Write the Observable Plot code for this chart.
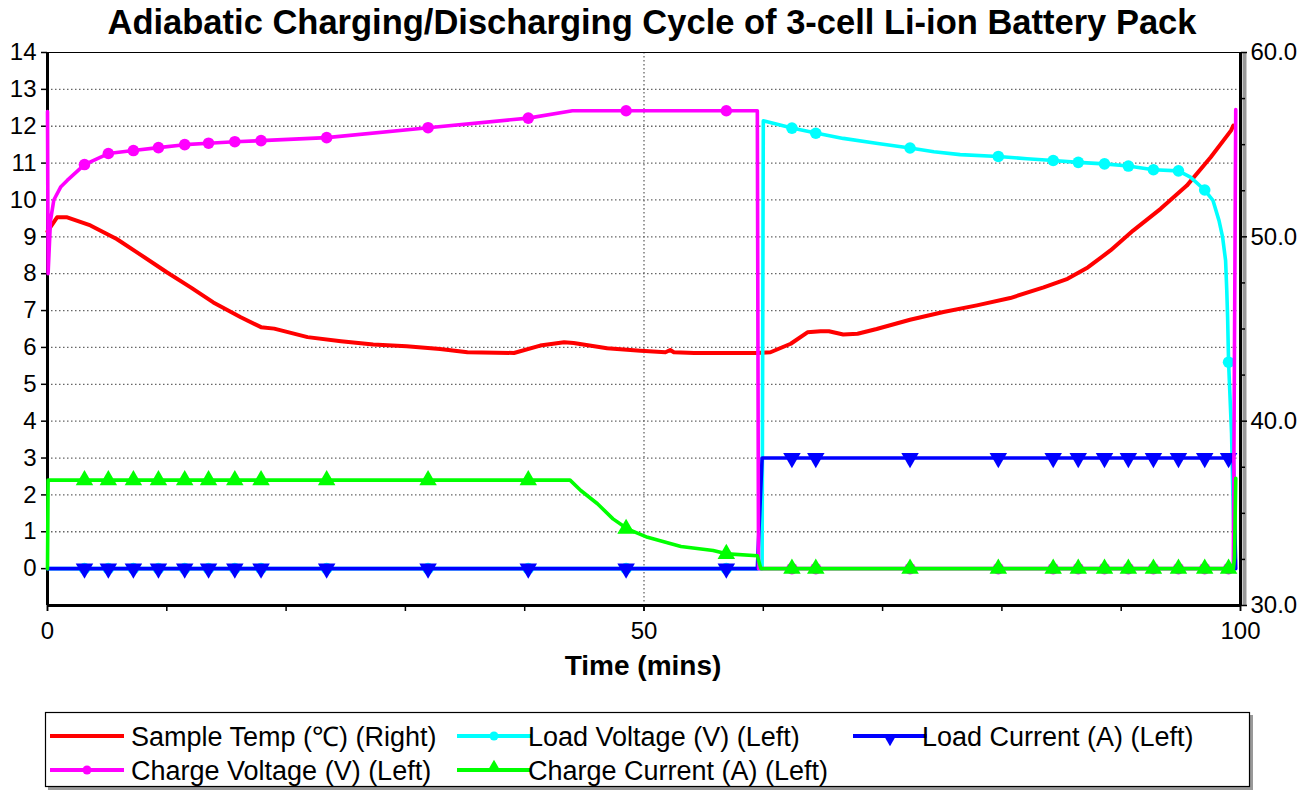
<!DOCTYPE html>
<html><head><meta charset="utf-8">
<script src="https://cdn.jsdelivr.net/npm/d3@7"></script>
<script src="https://cdn.jsdelivr.net/npm/@observablehq/plot@0.6"></script>
<style>
html,body{margin:0;padding:0;background:#fff;}
body{position:relative;width:1312px;height:790px;overflow:hidden;font-family:"Liberation Sans",Arial,sans-serif;color:#000;}
#title{position:absolute;left:0;top:0;width:1304px;text-align:center;font-weight:bold;font-size:34.5px;line-height:44px;}
#chart{position:absolute;left:0;top:0;}
#xlabel{position:absolute;left:443px;width:400px;top:650px;text-align:center;font-weight:bold;font-size:28px;line-height:32px;}
#legend{position:absolute;left:0;top:0;}
svg{overflow:visible;}
</style></head><body>
<div id="chart"></div>
<div id="title">Adiabatic Charging/Discharging Cycle of 3-cell Li-ion Battery Pack</div>
<div id="xlabel">Time (mins)</div>
<div id="legend"></div>
<script>
// ---------- data ----------
const tempTime = [0, 0.8, 1.65, 3.6, 5.8, 7.5, 10.0, 12.0, 13.9, 16.2, 17.9, 19.0, 21.8, 24.6, 27.3, 30.1, 32.9, 35.2, 39.1, 41.3, 43.3, 44.1, 46.9, 49.7, 51.8, 52.2, 52.5, 54.2, 59.5, 60.6, 62.3, 63.7, 64.8, 65.5, 66.7, 67.9, 69.5, 72.3, 75.1, 77.9, 80.7, 83.5, 85.5, 87.2, 89.1, 91.0, 93.3, 95.5, 97.5, 99.2, 99.4];
const tempC    = [50.3, 51.06, 51.06, 50.62, 49.88, 49.16, 48.08, 47.26, 46.44, 45.64, 45.1, 45.02, 44.56, 44.34, 44.16, 44.06, 43.92, 43.74, 43.7, 44.1, 44.28, 44.24, 43.96, 43.82, 43.74, 43.86, 43.74, 43.7, 43.7, 43.74, 44.2, 44.82, 44.88, 44.88, 44.7, 44.74, 45.0, 45.5, 45.92, 46.28, 46.68, 47.26, 47.72, 48.34, 49.26, 50.34, 51.52, 52.78, 54.32, 55.76, 56.04];

const loadVoltTime = [0, 59.9, 60.0, 62.4, 64.5, 66.7, 69.6, 72.3, 74.3, 76.5, 79.7, 82.1, 84.3, 86.4, 88.6, 90.6, 92.7, 94.8, 95.8, 97.0, 97.7, 98.2, 98.5, 98.75, 98.85, 98.92, 99.0, 99.25, 99.5];
const loadVoltage  = [0, 0, 12.15, 11.95, 11.81, 11.67, 11.53, 11.41, 11.31, 11.23, 11.18, 11.12, 11.07, 11.02, 10.98, 10.92, 10.82, 10.79, 10.62, 10.27, 9.98, 9.44, 8.99, 8.36, 7.54, 6.82, 5.6, 3.66, 0];

const loadCurrTime = [0, 59.5, 59.9, 99.4, 99.6];
const loadCurrent  = [0, 0, 3.0, 3.0, 0];

const chargeVoltTime = [0, 0.05, 0.25, 0.53, 1.1, 1.65, 3.1, 5.1, 7.2, 9.3, 11.5, 13.5, 15.7, 17.9, 23.4, 31.9, 40.3, 44.0, 48.5, 56.9, 59.5, 59.6, 99.4, 99.6];
const chargeVoltage  = [12.4, 8.0, 9.44, 10.0, 10.35, 10.53, 10.96, 11.26, 11.34, 11.42, 11.5, 11.54, 11.58, 11.61, 11.69, 11.96, 12.22, 12.42, 12.42, 12.42, 12.42, 0, 0, 12.45];

const chargeCurrTime = [0, 0.05, 43.8, 44.7, 46.1, 47.4, 48.6, 50.3, 53.1, 55.8, 57.0, 59.5, 59.8, 99.4, 99.5, 99.6];
const chargeCurrent  = [0, 2.4, 2.4, 2.12, 1.76, 1.35, 1.08, 0.85, 0.6, 0.49, 0.40, 0.35, 0, 0, 0.3, 2.45];

// marker (sample) times and marker values
const markerTime = [3.1, 5.1, 7.2, 9.3, 11.5, 13.5, 15.7, 17.9, 23.4, 31.9, 40.3, 48.5, 56.9, 62.4, 64.4, 72.3, 79.7, 84.3, 86.4, 88.6, 90.6, 92.7, 94.8, 97.0, 99.0];
const loadVoltMarks   = [0,0,0,0,0,0,0,0,0,0,0,0,0, 11.95, 11.81, 11.41, 11.18, 11.07, 11.02, 10.98, 10.92, 10.82, 10.79, 10.27, 5.6];
const loadCurrMarks   = [0,0,0,0,0,0,0,0,0,0,0,0,0, 3,3,3,3,3,3,3,3,3,3,3,3];
const chargeVoltMarks = [10.96, 11.26, 11.34, 11.42, 11.5, 11.54, 11.58, 11.61, 11.69, 11.96, 12.22, 12.42, 12.42, 0,0,0,0,0,0,0,0,0,0,0,0];
const chargeCurrMarks = [2.4,2.4,2.4,2.4,2.4,2.4,2.4,2.4,2.4,2.4,2.4, 1.08, 0.40, 0,0,0,0,0,0,0,0,0,0,0,0];

const leftTicks  = [0,1,2,3,4,5,6,7,8,9,10,11,12,13,14];
const rightTicks = [30, 40, 50, 60];
const rightMinor = [32.5, 35, 37.5, 42.5, 45, 47.5, 52.5, 55, 57.5];
const xTicks = [0, 50, 100];
const xMinor = [0,10,20,30,40,50,60,70,80,90,100];

const seriesNames  = ["Sample Temp (\u2103) (Right)", "Load Voltage (V) (Left)", "Load Current (A) (Left)", "Charge Voltage (V) (Left)", "Charge Current (A) (Left)"];
const seriesColors = ["#ff0000", "#00ffff", "#0000ff", "#ff00ff", "#00ff00"];
const seriesSymbols = [null, "circle", "triangle-down", "circle", "triangle"];

// right axis (°C) -> left axis units
const r2l = r => (r - 30) / 2 - 1;
const l2r = l => (l + 1) * 2 + 30;

const mk = (ts, vs) => ts.map((t, i) => ({t, v: vs[i]}));
const temp = mk(tempTime, tempC).map(d => ({t: d.t, v: r2l(d.v)}));
const lv = mk(loadVoltTime, loadVoltage);
const lc = mk(loadCurrTime, loadCurrent);
const cv = mk(chargeVoltTime, chargeVoltage);
const cc = mk(chargeCurrTime, chargeCurrent);
const mLV = mk(markerTime, loadVoltMarks);
const mLC = mk(markerTime, loadCurrMarks);
const mCV = mk(markerTime, chargeVoltMarks);
const mCC = mk(markerTime, chargeCurrMarks);

const SW = 3.6;
const plot = Plot.plot({
  width: 1312, height: 690,
  marginLeft: 47, marginRight: 72, marginTop: 52, marginBottom: 85,
  style: {fontFamily: "'Liberation Sans', Arial, sans-serif", fontSize: "24px", color: "black", background: "transparent", overflow: "visible"},
  x: {domain: [0, 100]},
  y: {domain: [-1, 14]},
  marks: [
    Plot.ruleY(leftTicks.filter(d => d < 14), {stroke: "#666", strokeWidth: 1.3, strokeDasharray: "1.5,2.5"}),
    Plot.ruleX([50], {stroke: "#666", strokeWidth: 1.3, strokeDasharray: "1.5,2.5"}),
    Plot.ruleY([14], {stroke: "black", strokeWidth: 1.2}),
    Plot.ruleX([100], {dx: 4, stroke: "#999", strokeWidth: 4}),
    Plot.axisY(leftTicks, {anchor: "left", tickSize: 6, tickPadding: 5, fontSize: 24, label: null, strokeWidth: 1.5}),
    Plot.axisY(rightMinor.map(r2l), {anchor: "right", tickSize: 4, tickFormat: () => "", label: null, strokeWidth: 1.5}),
    Plot.axisY(rightTicks.map(r2l), {anchor: "right", tickSize: 6, tickPadding: 4, fontSize: 24, tickFormat: d => l2r(d).toFixed(1), label: null, strokeWidth: 1.5}),
    Plot.axisX(xMinor, {tickSize: 6, tickFormat: () => "", label: null, strokeWidth: 1.5}),
    Plot.axisX(xTicks, {tickSize: 6, tickPadding: 10, fontSize: 24, label: null, strokeWidth: 1.5}),
    Plot.ruleX([0], {stroke: "black", strokeWidth: 3}),
    Plot.ruleX([100], {stroke: "black", strokeWidth: 3}),
    Plot.ruleY([-1], {stroke: "black", strokeWidth: 3}),
    Plot.line(temp, {x: "t", y: "v", stroke: seriesColors[0], strokeWidth: SW + 0.4}),
    Plot.line(lv, {x: "t", y: "v", stroke: seriesColors[1], strokeWidth: SW}),
    Plot.dot(mLV, {x: "t", y: "v", fill: seriesColors[1], r: 5.8, symbol: "circle"}),
    Plot.line(lc, {x: "t", y: "v", stroke: seriesColors[2], strokeWidth: SW}),
    Plot.dot(mLC, {x: "t", y: "v", fill: seriesColors[2], r: 6.5, symbol: "triangle", rotate: 180}),
    Plot.line(cv, {x: "t", y: "v", stroke: seriesColors[3], strokeWidth: SW}),
    Plot.dot(mCV, {x: "t", y: "v", fill: seriesColors[3], r: 5.8, symbol: "circle"}),
    Plot.line(cc, {x: "t", y: "v", stroke: seriesColors[4], strokeWidth: SW}),
    Plot.dot(mCC, {x: "t", y: "v", fill: seriesColors[4], r: 6.5, symbol: "triangle"})
  ]
});
document.getElementById("chart").appendChild(plot);

// ---------- legend ----------
const lg = d3.select("#legend").append("svg").attr("width", 1312).attr("height", 790)
  .style("font-family", "'Liberation Sans', Arial, sans-serif");
lg.append("rect").attr("x", 48).attr("y", 715).attr("width", 1205).attr("height", 75).attr("fill", "#999");
lg.append("rect").attr("x", 45.5).attr("y", 712.5).attr("width", 1204).attr("height", 74).attr("fill", "#fff").attr("stroke", "#000").attr("stroke-width", 1.2);
const pos = [[50, 736], [457, 736], [853, 736], [50, 770], [457, 770]];
const textX = [131, 528, 922, 131, 528];
seriesNames.forEach((name, i) => {
  const [x, y] = pos[i];
  const g = lg.append("g");
  g.append("line").attr("x1", x).attr("x2", x + 74).attr("y1", y).attr("y2", y).attr("stroke", seriesColors[i]).attr("stroke-width", 4);
  if (seriesSymbols[i] === "circle") {
    g.append("circle").attr("cx", x + 37).attr("cy", y).attr("r", 4.5).attr("fill", seriesColors[i]);
  } else if (seriesSymbols[i]) {
    const d = d3.symbol(d3.symbolTriangle, 70)();
    g.append("path").attr("d", d).attr("fill", seriesColors[i])
      .attr("transform", `translate(${x + 37},${y + (seriesSymbols[i] === "triangle-down" ? 3 : -3)}) rotate(${seriesSymbols[i] === "triangle-down" ? 180 : 0})`);
  }
  g.append("text").attr("x", textX[i]).attr("y", y).attr("dy", "0.36em").attr("font-size", 27).attr("fill", "#000").text(name);
});
</script>
</body></html>
